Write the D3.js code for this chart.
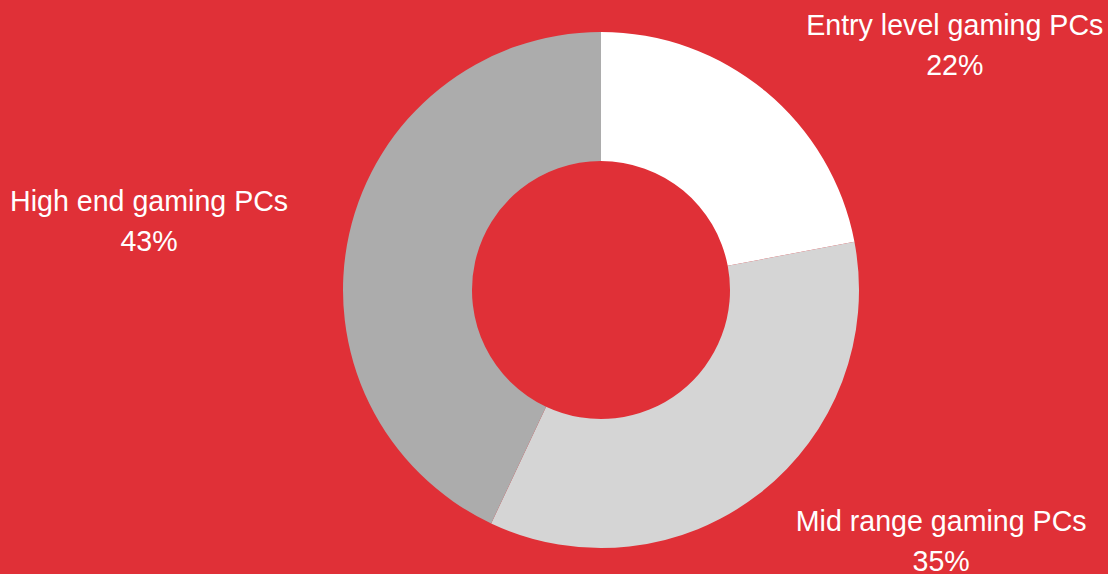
<!DOCTYPE html>
<html>
<head>
<meta charset="utf-8">
<script src="https://cdn.jsdelivr.net/npm/d3@7"></script>
<style>
  html, body { margin: 0; padding: 0; background: #e03037; }
  svg { display: block; }
</style>
</head>
<body>
<svg id="chart"></svg>
<script>
// Share of gaming PC market by tier
const categories = ["Entry level gaming PCs", "Mid range gaming PCs", "High end gaming PCs"];
const shares = [22, 35, 43];
const colors = ["#ffffff", "#d5d5d5", "#acacac"];

const W = 1108, H = 574;
const cx = 601, cy = 290;
const outerR = 258, innerR = 129;
const labelRx = 555, labelRy = 318;
const fontSize = 28.6, lineGap = 40;

const svg = d3.select("#chart").attr("width", W).attr("height", H);
svg.append("rect").attr("width", W).attr("height", H).attr("fill", "#e03037");

const data = categories.map((c, i) => ({ name: c, value: shares[i], color: colors[i] }));

const pie = d3.pie().value(d => d.value).sort(null);
const arc = d3.arc().innerRadius(innerR).outerRadius(outerR);
const arcs = pie(data);

const g = svg.append("g").attr("transform", `translate(${cx},${cy})`);

g.selectAll("path.slice")
  .data(arcs)
  .join("path")
  .attr("class", "slice")
  .attr("d", arc)
  .attr("fill", d => d.data.color);

// Labels sit on an ellipse around the donut, kept inside the canvas
const total = d3.sum(shares);
const labels = svg.append("g")
  .attr("font-family", "'Liberation Sans', Arial, sans-serif")
  .attr("font-size", fontSize)
  .attr("fill", "#ffffff")
  .attr("text-anchor", "middle");

arcs.forEach(a => {
  const mid = (a.startAngle + a.endAngle) / 2;
  let x = cx + labelRx * Math.sin(mid);
  const y = cy - labelRy * Math.cos(mid);
  const t = labels.append("text");
  const l1 = t.append("tspan").attr("y", y - 10).text(a.data.name);
  const l2 = t.append("tspan").attr("y", y - 10 + lineGap)
    .text(Math.round(a.data.value / total * 100) + "%");
  const w = t.node().getComputedTextLength ? l1.node().getComputedTextLength() : 0;
  x = Math.max(10 + w / 2, Math.min(W - 4 - w / 2, x));
  l1.attr("x", x);
  l2.attr("x", x);
});
</script>
</body>
</html>
